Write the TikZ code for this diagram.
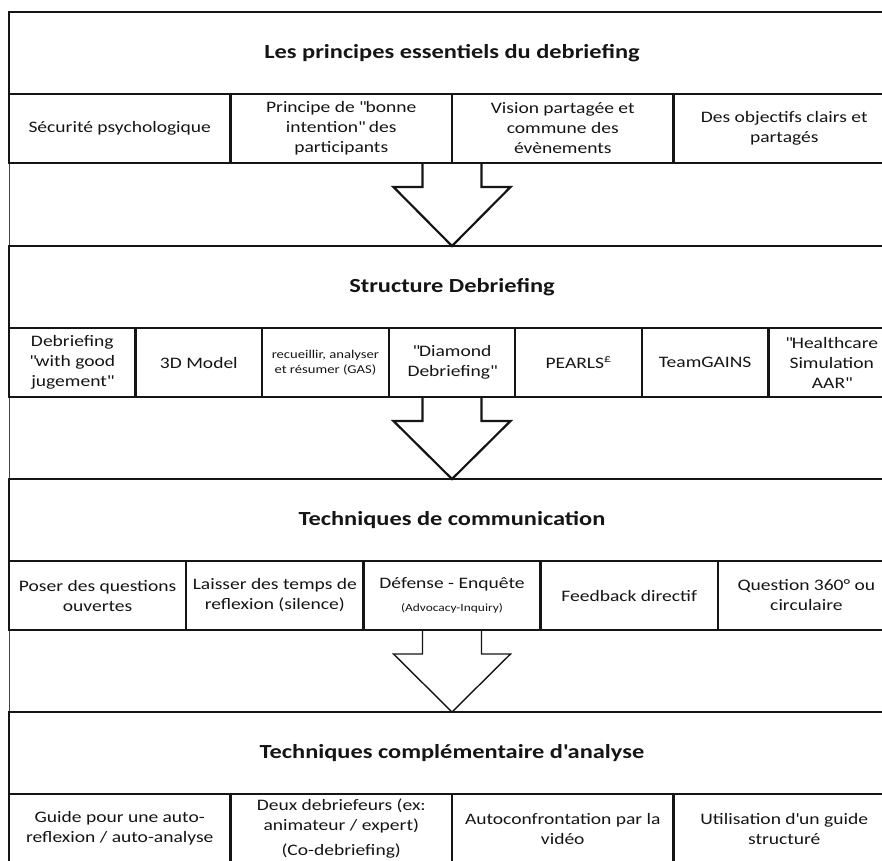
\documentclass[tikz,border=0pt]{standalone}
\usepackage{fontspec}
\setmainfont{Carlito}[FakeStretch=1.22]
\usetikzlibrary{calc}
\newcommand{\cellfont}{\fontsize{16}{20}\selectfont}
\newcommand{\smallcellfont}{\fontsize{12}{15}\selectfont}
\newcommand{\tinycellfont}{\fontsize{11}{13}\selectfont}
\newcommand{\titlefont}{\fontsize{20}{24}\selectfont\bfseries}
\newcommand{\dq}{\textquotedbl}
\newcommand{\hollowarrow}[3][]{%
  \draw[hollow,#1] let \p1=(#2), \p2=(#3) in
    (\x1-29.5pt,\y1) -- (\x1-29.5pt,\y1-24pt) -- (\x1-58.5pt,\y1-24pt) --
    (\x1,\y2) -- (\x1+58.5pt,\y1-24pt) -- (\x1+29.5pt,\y1-24pt) -- (\x1+29.5pt,\y1);}
\definecolor{ink}{HTML}{151515}
\tikzset{
  titlebox/.style={draw=ink, line width=2.4pt, minimum width=886pt, minimum height=82pt,
    inner sep=0pt, outer sep=0pt, anchor=north west, font=\titlefont, text=ink},
  cellbox/.style={draw=ink, line width=2.4pt, minimum height=69pt, inner sep=0pt,
    outer sep=0pt, anchor=north west, align=center, font=\cellfont, text=ink},
  hollow/.style={draw=ink, line width=2.2pt, line join=miter},
  frameline/.style={draw=ink!80, line width=0.8pt},
}
\begin{document}
\begin{tikzpicture}[x=1pt,y=-1pt]
\useasboundingbox (0,0) rectangle (882,860);
\clip (0,0) rectangle (882,860);
\draw[frameline] (9,12) rectangle (895,863);
% Section 1
\node[titlebox] (t1) at (9,12) {Les principes essentiels du debriefing};
\node[cellbox, minimum width=221.5pt] (c11) at (9,94) {Sécurité psychologique};
\node[cellbox, minimum width=221.5pt] (c12) at (230.5,94) {Principe de \dq bonne\\intention\dq{} des\\participants};
\node[cellbox, minimum width=221.5pt] (c13) at (452,94) {Vision partagée et\\commune des\\évènements};
\node[cellbox, minimum width=221.5pt] (c14) at (673.5,94) {Des objectifs clairs et\\partagés};
% Section 2
\node[titlebox] (t2) at (9,246) {Structure Debriefing};
\node[cellbox, minimum width=126.57pt] (c21) at (9,328) {Debriefing\\\dq with good\\jugement\dq};
\node[cellbox, minimum width=126.57pt] (c22) at (135.57,328) {3D Model};
\node[cellbox, minimum width=126.57pt, font=\smallcellfont] (c23) at (262.14,328) {recueillir, analyser\\et résumer (GAS)};
\node[cellbox, minimum width=126.57pt] (c24) at (388.71,328) {\dq Diamond\\Debriefing\dq};
\node[cellbox, minimum width=126.57pt] (c25) at (515.29,328) {PEARLS\textsuperscript{£}};
\node[cellbox, minimum width=126.57pt] (c26) at (641.86,328) {TeamGAINS};
\node[cellbox, minimum width=126.57pt] (c27) at (768.43,328) {\dq Healthcare\\Simulation\\AAR\dq};
% Section 3
\node[titlebox] (t3) at (9,479) {Techniques de communication};
\node[cellbox, minimum width=177.2pt] (c31) at (9,561) {Poser des questions\\ouvertes};
\node[cellbox, minimum width=177.2pt] (c32) at (186.2,561) {Laisser des temps de\\reflexion (silence)};
\node[cellbox, minimum width=177.2pt] (c33) at (363.4,561) {Défense - Enquête\\[3pt]{\tinycellfont (Advocacy-Inquiry)}};
\node[cellbox, minimum width=177.2pt] (c34) at (540.6,561) {Feedback directif};
\node[cellbox, minimum width=177.2pt] (c35) at (717.8,561) {Question 360° ou\\circulaire};
% Section 4
\node[titlebox] (t4) at (9,712) {Techniques complémentaire d\textquotesingle analyse};
\node[cellbox, minimum width=221.5pt] (c41) at (9,794) {Guide pour une auto-\\reflexion / auto-analyse};
\node[cellbox, minimum width=221.5pt] (c42) at (230.5,794) {Deux debriefeurs (ex:\\animateur / expert)\\[5pt](Co-debriefing)};
\node[cellbox, minimum width=221.5pt] (c43) at (452,794) {Autoconfrontation par la\\vidéo};
\node[cellbox, minimum width=221.5pt] (c44) at (673.5,794) {Utilisation d\textquotesingle un guide\\structuré};
% Arrows
\hollowarrow{c12.south east}{t2.north}
\hollowarrow{c24.south}{t3.north}
\hollowarrow[line width=1.4pt]{c33.south}{t4.north}
\end{tikzpicture}
\end{document}
